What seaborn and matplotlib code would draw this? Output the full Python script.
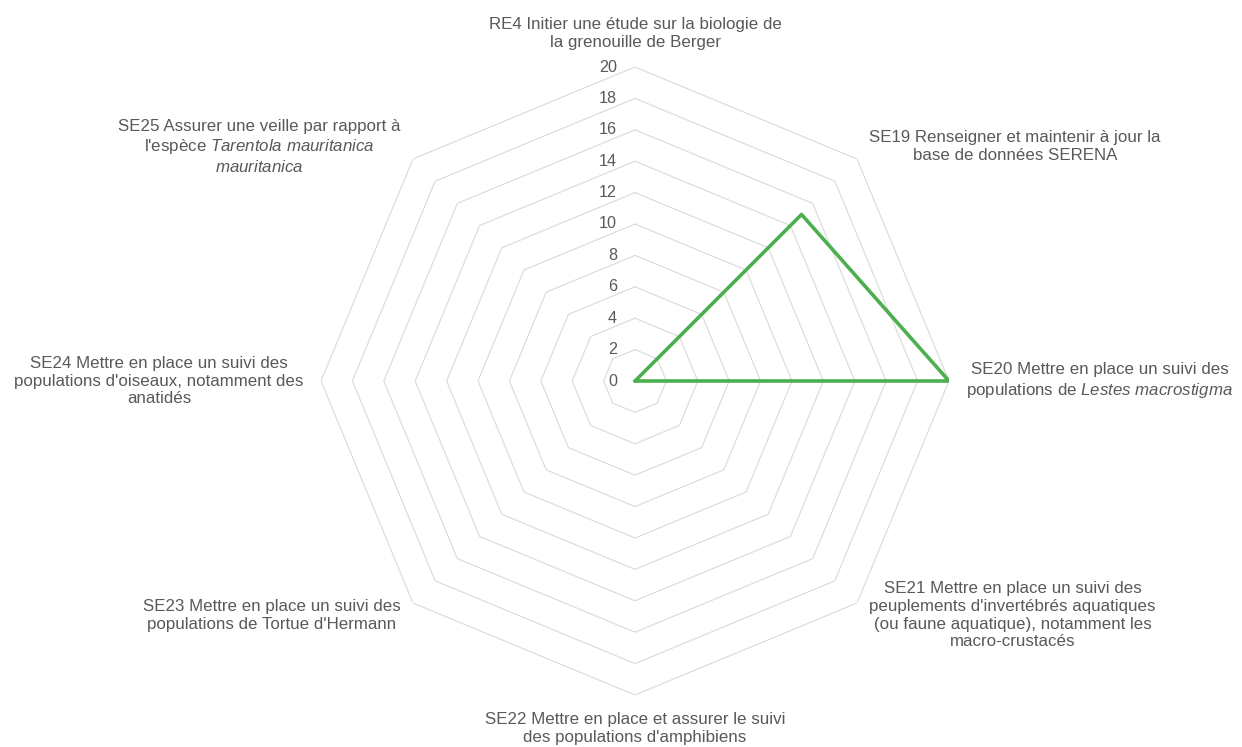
import numpy as np
import matplotlib
matplotlib.use("Agg")
import matplotlib.pyplot as plt
import seaborn as sns

# ── Data ────────────────────────────────────────────────────
categories = [
    "RE4 Initier une étude sur la biologie de\nla grenouille de Berger",
    "SE19 Renseigner et maintenir à jour la\nbase de données SERENA",
    "SE20 Mettre en place un suivi des\npopulations de $\\mathrm{Lestes\\ macrostigma}$",
    "SE21 Mettre en place un suivi des\npeuplements d'invertébrés aquatiques\n(ou faune aquatique), notamment les\nmacro-crustacés",
    "SE22 Mettre en place et assurer le suivi\ndes populations d'amphibiens",
    "SE23 Mettre en place un suivi des\npopulations de Tortue d'Hermann",
    "SE24 Mettre en place un suivi des\npopulations d'oiseaux, notamment des\nanatidés",
    "SE25 Assurer une veille par rapport à\nl'espèce $\\mathrm{Tarentola\\ mauritanica}$\n$\\mathrm{mauritanica}$",
]
values = [0, 15, 20, 0, 0, 0, 0, 0]
ticks = [0, 2, 4, 6, 8, 10, 12, 14, 16, 18, 20]

# ── Style ───────────────────────────────────────────────────
TEXT_COLOR = "#595959"
GRID_COLOR = "#d9d9d9"
LINE_COLOR = "#4caf50"

sns.set_theme(style="white")
plt.rcParams.update({
    "font.family": ["Liberation Sans", "DejaVu Sans"],
    "mathtext.fontset": "custom",
    # italic species names go through the "rm" slot to avoid italic gaps
    "mathtext.rm": "Liberation Sans:italic",
    "mathtext.it": "Liberation Sans:italic",
    "text.color": TEXT_COLOR,
})

fig = plt.figure(figsize=(12.42, 7.47), dpi=100)
cx, cy = 635 / 1242, 1 - 381 / 747
rw, rh = 314 / 1242, 314 / 747
ax = fig.add_axes([cx - rw, cy - rh, 2 * rw, 2 * rh], projection="polar")
ax.set_theta_zero_location("N")
ax.set_theta_direction(-1)
ax.grid(False)
ax.spines["polar"].set_visible(False)
ax.set_xticks([])
ax.set_yticks([])
ax.set_facecolor("none")

n = len(categories)
angles = np.linspace(0, 2 * np.pi, n, endpoint=False)
closed = np.append(angles, angles[0])

# octagonal grid rings
for t in ticks[1:]:
    ax.plot(closed, [t] * (n + 1), color=GRID_COLOR, lw=0.8, zorder=1)

# tick labels along the top spoke
for t in ticks:
    ax.annotate(str(t), xy=(0, t), xytext=(-13, 0), textcoords="offset points",
                ha="right", va="center", fontsize=11.6, color=TEXT_COLOR)

# data series
sns.lineplot(x=closed, y=values + [values[0]], ax=ax,
             color=LINE_COLOR, lw=2.6, sort=False, zorder=3)
ax.set_xlabel("")
ax.set_ylabel("")
ax.set_ylim(0, 20)

# category labels
for ang, lab in zip(angles, categories):
    deg = np.degrees(ang) % 360
    if deg == 0:
        ha, va = "center", "bottom"
    elif deg == 180:
        ha, va = "center", "top"
    elif deg < 180:
        ha, va = "left", "center"
    else:
        ha, va = "right", "center"
    ax.text(ang, 21.1, lab, ha=ha, va=va, multialignment="center",
            fontsize=12.2, color=TEXT_COLOR, linespacing=1.22)

fig.savefig("out.png", dpi=100, facecolor="white")
